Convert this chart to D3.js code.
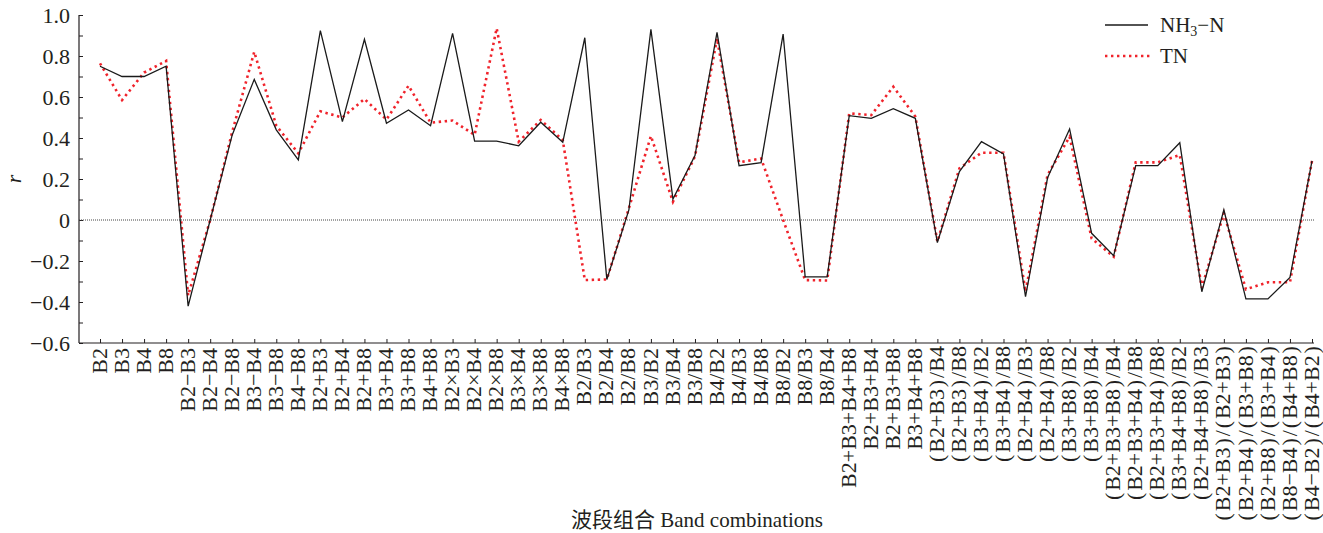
<!DOCTYPE html>
<html>
<head>
<meta charset="utf-8">
<script src="https://cdn.jsdelivr.net/npm/d3@7"></script>
<style>
  html, body { margin: 0; padding: 0; background: #fff; }
  svg { display: block; }
  text { font-family: "Liberation Serif", "Noto Sans CJK SC", serif; fill: #231f20; }
</style>
</head>
<body>
<svg id="chart" width="1323" height="533"></svg>
<script>
// Band combinations on the x axis
const categories = [
  "B2", "B3", "B4", "B8",
  "B2−B3", "B2−B4", "B2−B8", "B3−B4", "B3−B8", "B4−B8",
  "B2+B3", "B2+B4", "B2+B8", "B3+B4", "B3+B8", "B4+B8",
  "B2×B3", "B2×B4", "B2×B8", "B3×B4", "B3×B8", "B4×B8",
  "B2/B3", "B2/B4", "B2/B8", "B3/B2", "B3/B4", "B3/B8",
  "B4/B2", "B4/B3", "B4/B8", "B8/B2", "B8/B3", "B8/B4",
  "B2+B3+B4+B8", "B2+B3+B4", "B2+B3+B8", "B3+B4+B8",
  "(B2+B3)/B4", "(B2+B3)/B8", "(B3+B4)/B2", "(B3+B4)/B8",
  "(B2+B4)/B3", "(B2+B4)/B8", "(B3+B8)/B2", "(B3+B8)/B4",
  "(B2+B3+B8)/B4", "(B2+B3+B4)/B8", "(B2+B3+B4)/B8", "(B3+B4+B8)/B2", "(B2+B4+B8)/B3",
  "(B2+B3)/(B2+B3)", "(B2+B4)/(B3+B8)", "(B2+B8)/(B3+B4)", "(B8−B4)/(B4+B8)", "(B4−B2)/(B4+B2)"
];

// Correlation coefficient r with NH3-N
const nh3n = [
  0.75, 0.70, 0.70, 0.75,
  -0.42, 0.00, 0.415, 0.686, 0.44, 0.293,
  0.924, 0.48, 0.881, 0.472, 0.537, 0.46,
  0.91, 0.385, 0.385, 0.362, 0.477, 0.379,
  0.889, -0.29, 0.049, 0.93, 0.102, 0.314,
  0.915, 0.265, 0.28, 0.907, -0.277, -0.277,
  0.509, 0.496, 0.543, 0.496,
  -0.11, 0.236, 0.382, 0.322, -0.374, 0.206, 0.444, -0.065,
  -0.174, 0.265, 0.265, 0.377, -0.35,
  0.049, -0.385, -0.385, -0.28, 0.288
];

// Correlation coefficient r with TN
const tn = [
  0.764, 0.585, 0.719, 0.776,
  -0.368, 0.00, 0.43, 0.82, 0.46, 0.325,
  0.53, 0.50, 0.59, 0.49, 0.655, 0.475,
  0.485, 0.415, 0.935, 0.382, 0.488, 0.39,
  -0.293, -0.29, 0.057, 0.41, 0.089, 0.31,
  0.885, 0.281, 0.30, 0.0, -0.293, -0.295,
  0.52, 0.512, 0.65, 0.505,
  -0.105, 0.252, 0.328, 0.328, -0.35, 0.22, 0.406, -0.09,
  -0.179, 0.281, 0.281, 0.317, -0.33,
  0.033, -0.338, -0.304, -0.304, 0.288
];

const yTickValues = [-0.6, -0.4, -0.2, 0, 0.2, 0.4, 0.6, 0.8, 1.0];
const yMinorTicks = [-0.6, -0.5, -0.4, -0.3, -0.2, -0.1, 0, 0.1, 0.2, 0.3, 0.4, 0.5, 0.6, 0.7, 0.8, 0.9, 1.0];

const svg = d3.select("#chart");
const axisX0 = 79, axisY0 = 343;

const x = d3.scalePoint().domain(categories.map((c, i) => i)).range([100, 1312]);
const y = d3.scaleLinear().domain([-0.6, 1.0]).range([343, 15]);

const fmt = v => v === 0 ? "0" : (v < 0 ? "−" : "") + Math.abs(v).toFixed(1);

// y axis: line, inward ticks every 0.1, labels every 0.2
const yAxis = d3.axisLeft(y).tickValues(yMinorTicks).tickSize(-4).tickFormat("");
const gy = svg.append("g").attr("transform", `translate(${axisX0},0)`).call(yAxis);
gy.select(".domain").attr("d", `M0,${y(1.0)}V${axisY0}`).attr("stroke", "#231f20").attr("stroke-width", 1.2);
gy.selectAll(".tick line").attr("stroke", "#231f20");

svg.append("g").selectAll("text").data(yTickValues).join("text")
  .attr("x", 70).attr("y", d => y(d)).attr("dy", "0.35em")
  .attr("text-anchor", "end").attr("font-size", 22)
  .text(fmt);

// x axis: line, inward ticks, rotated labels
const xAxis = d3.axisBottom(x).tickSize(-4).tickFormat("");
const gx = svg.append("g").attr("transform", `translate(0,${axisY0})`).call(xAxis);
gx.select(".domain").attr("d", `M${axisX0},0H${x(categories.length - 1) + 2}`).attr("stroke", "#231f20").attr("stroke-width", 1.2);
gx.selectAll(".tick line").attr("stroke", "#231f20");

// rotated category labels; parentheses get a little extra room on each side
const xLabels = svg.append("g").selectAll("text").data(categories).join("text")
  .attr("transform", (d, i) => `translate(${x(i)},${axisY0 + 5}) rotate(-90)`)
  .attr("dy", "0.3em")
  .attr("text-anchor", "end").attr("font-size", 22);

xLabels.each(function (d) {
  const t = d3.select(this);
  const parts = d.split(/([()])/).filter(s => s.length);
  let pad = 0;
  parts.forEach(p => {
    const isParen = p === "(" || p === ")";
    t.append("tspan").attr("dx", isParen ? 1.9 + pad : pad).text(p);
    pad = isParen ? 1.9 : 0;
  });
});

// zero reference line
svg.append("line")
  .attr("x1", axisX0).attr("x2", x(categories.length - 1) + 2)
  .attr("y1", y(0)).attr("y2", y(0))
  .attr("stroke", "#444").attr("stroke-width", 1).attr("stroke-dasharray", "1,1");

// axis titles
svg.append("text")
  .attr("transform", `translate(21,${(y(1.0) + axisY0) / 2}) rotate(-90)`)
  .attr("text-anchor", "middle").attr("font-size", 22).attr("font-style", "italic")
  .text("r");

svg.append("text")
  .attr("x", 697).attr("y", 527)
  .attr("text-anchor", "middle").attr("font-size", 21)
  .text("波段组合 Band combinations");

// series lines
const line = d3.line().x((d, i) => x(i)).y(d => y(d));

svg.append("path").datum(tn)
  .attr("d", line).attr("fill", "none")
  .attr("stroke", "#f0232b").attr("stroke-width", 2.6)
  .attr("stroke-dasharray", "2.4,3.6");

svg.append("path").datum(nh3n)
  .attr("d", line).attr("fill", "none")
  .attr("stroke", "#1a1a1a").attr("stroke-width", 1.3)
  .attr("stroke-linejoin", "miter");

// legend
const legend = svg.append("g");
legend.append("line").attr("x1", 1105).attr("x2", 1148).attr("y1", 25).attr("y2", 25)
  .attr("stroke", "#1a1a1a").attr("stroke-width", 1.3);
legend.append("line").attr("x1", 1105).attr("x2", 1150).attr("y1", 56).attr("y2", 56)
  .attr("stroke", "#f0232b").attr("stroke-width", 2.6).attr("stroke-dasharray", "2.4,3.6");

const t1 = legend.append("text").attr("x", 1160).attr("y", 32).attr("font-size", 21);
t1.append("tspan").text("NH");
t1.append("tspan").attr("font-size", 14).attr("dy", 4).text("3");
t1.append("tspan").attr("dy", -4).text("−N");

legend.append("text").attr("x", 1160).attr("y", 63).attr("font-size", 21).text("TN");
</script>
</body>
</html>
